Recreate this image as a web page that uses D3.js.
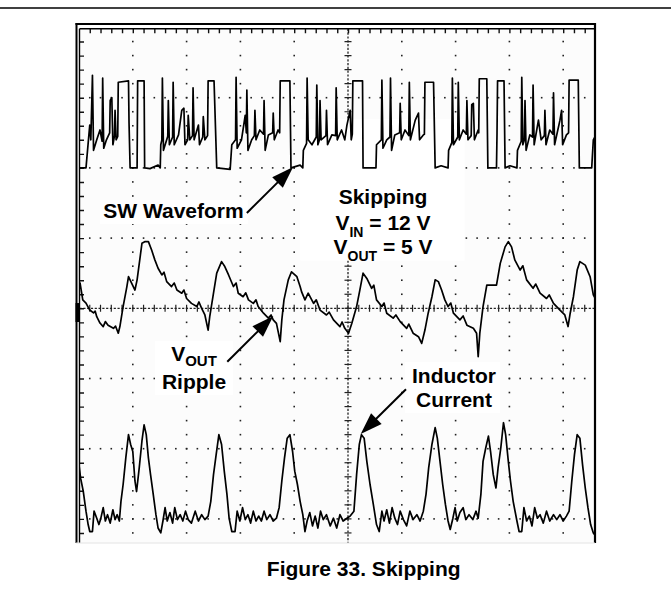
<!DOCTYPE html>
<html><head><meta charset="utf-8">
<script src="https://cdn.jsdelivr.net/npm/d3@7"></script>
<style>
body{margin:0;background:#fff}
svg{display:block}
text{font-family:"Liberation Sans",Arial,sans-serif;font-weight:bold;fill:#000}
</style></head>
<body><svg id="c" width="671" height="592"></svg>
<script>
// time in screen divisions, SW in volts (10 V/div), ripple in mV (20 mV/div), inductor current in A (1 A/div)
const swTrace = [[0,0],[0.13,0],[0.17,3.5],[0.20,6.1],[0.22,4.0],[0.25,13.2],[0.27,2.5],[0.33,4.0],[0.39,5.4],[0.43,3.8],[0.44,12.8],[0.46,2.8],[0.51,4.0],[0.57,5.0],[0.58,9.6],[0.61,10.0],[0.63,3.3],[0.66,4.6],[0.67,8.2],[0.69,4.0],[0.72,4.5],[0.73,12.2],[0.92,12.4],[0.93,6.4],[0.95,0],[1.08,0],[1.09,12.4],[1.21,12.4],[1.22,0],[1.32,-0.1],[1.47,0.4],[1.51,0],
[1.52,3.3],[1.54,4.0],[1.55,12.8],[1.57,2.5],[1.63,4.0],[1.65,4.5],[1.66,9.6],[1.68,3.3],[1.74,4.4],[1.75,12.2],[1.77,3.3],[1.85,4.7],[1.91,8.2],[1.95,8.5],[1.97,3.3],[2.02,4.0],[2.03,7.5],[2.06,4.0],[2.11,4.6],[2.12,11.4],[2.14,4.0],[2.22,6.1],[2.24,3.3],[2.30,4.4],[2.31,7.3],[2.34,4.0],[2.39,4.6],[2.40,12.4],[2.51,12.4],[2.56,0],[2.81,-0.2],
[2.84,3.3],[2.91,4.0],[2.92,12.9],[2.94,2.8],[3.02,4.0],[3.09,7.5],[3.11,5.0],[3.12,11.1],[3.14,2.5],[3.21,4.0],[3.26,4.6],[3.27,8.2],[3.29,4.0],[3.36,5.4],[3.43,4.8],[3.44,9.6],[3.46,2.5],[3.52,4.7],[3.60,5.0],[3.61,7.8],[3.63,4.0],[3.70,5.4],[3.73,5.0],[3.74,12.4],[3.92,12.4],[3.94,0],[4.11,0.4],[4.16,0],
[4.17,2.5],[4.23,3.5],[4.24,12.8],[4.26,4.0],[4.33,3.3],[4.41,4.4],[4.42,11.8],[4.44,3.3],[4.47,4.0],[4.48,9.6],[4.50,4.0],[4.59,4.6],[4.60,8.2],[4.62,3.3],[4.70,4.7],[4.77,4.6],[4.78,11.4],[4.80,4.0],[4.88,5.4],[4.94,4.0],[4.98,6.1],[5.04,8.2],[5.06,4.0],[5.08,4.8],[5.09,12.4],[5.27,12.4],[5.28,0],[5.52,0],
[5.53,3.3],[5.62,4.0],[5.63,12.5],[5.65,2.8],[5.72,4.0],[5.78,4.4],[5.79,12.8],[5.81,2.5],[5.87,4.7],[5.96,5.0],[5.97,9.2],[5.99,4.0],[6.06,5.4],[6.13,4.6],[6.14,12.2],[6.16,4.0],[6.25,6.8],[6.31,7.8],[6.33,4.0],[6.40,4.7],[6.42,4.8],[6.43,12.2],[6.59,12.2],[6.62,0],[6.73,0.3],[6.86,0],
[6.87,2.5],[6.93,3.6],[6.94,12.8],[6.96,3.3],[7.04,4.4],[7.05,12.2],[7.07,4.0],[7.14,5.4],[7.20,4.8],[7.21,9.6],[7.23,4.0],[7.29,4.6],[7.30,9.0],[7.33,9.2],[7.35,4.0],[7.42,5.4],[7.43,5.0],[7.44,12.7],[7.58,12.7],[7.60,0],[7.76,0],[7.77,5.0],[7.78,12.4],[7.90,12.4],[7.92,0],[8.01,0.3],[8.14,0],
[8.15,2.5],[8.22,3.8],[8.23,12.9],[8.25,3.3],[8.28,4.0],[8.29,9.6],[8.31,2.5],[8.38,4.7],[8.43,4.4],[8.44,11.8],[8.46,3.3],[8.54,6.8],[8.59,4.0],[8.65,4.6],[8.66,8.2],[8.68,3.3],[8.75,5.4],[8.81,4.8],[8.82,10.7],[8.84,3.3],[8.94,6.8],[8.97,8.2],[8.99,3.3],[9.06,4.7],[9.10,5.0],[9.11,12.5],[9.28,12.5],[9.30,0],[9.53,0],[9.56,4.0],[9.61,4.7]];

const rippleTrace = [[0,5.2],[0.02,7.2],[0.07,2.4],[0.13,1.5],[0.20,-0.5],[0.27,-1.3],[0.30,-0.8],[0.33,-2.4],[0.39,-4.2],[0.45,-5.2],[0.49,-3.8],[0.54,-4.8],[0.64,-5.7],[0.68,-5.1],[0.73,-7.1],[0.76,-5.2],[0.82,0.5],[0.89,6.2],[0.92,9.0],[0.98,7.1],[1.04,5.2],[1.08,8.1],[1.17,18.5],[1.23,19.0],[1.29,19.0],[1.35,16.6],[1.41,13.8],[1.47,11.4],[1.54,9.5],[1.58,10.3],[1.63,7.6],[1.72,6.2],[1.77,7.2],[1.82,5.2],[1.91,4.3],[1.95,5.2],[2.00,2.8],[2.09,1.4],[2.19,0.5],[2.23,1.8],[2.28,0],[2.34,-1.9],[2.40,-6.2],[2.43,-2.4],[2.50,4.3],[2.56,10.0],[2.65,13.3],[2.71,11.9],[2.78,9.5],[2.87,6.2],[2.92,7.2],[2.96,4.3],[3.05,3.3],[3.10,4.4],[3.15,2.4],[3.24,1.4],[3.29,2.4],[3.33,0.5],[3.43,-1.4],[3.52,-2.8],[3.57,-1.9],[3.61,-3.3],[3.67,-4.3],[3.74,-9.5],[3.77,-3.3],[3.81,2.4],[3.89,8.1],[3.95,10.4],[4.05,9.0],[4.11,6.2],[4.14,4.6],[4.20,2.4],[4.26,4.3],[4.36,1.4],[4.41,2.4],[4.48,-0.5],[4.60,-1.9],[4.65,-1.1],[4.73,-3.3],[4.85,-5.2],[4.89,-3.9],[4.94,-5.7],[5.01,-7.1],[5.07,-4.3],[5.16,0.5],[5.22,5.2],[5.28,10.0],[5.35,8.5],[5.44,5.7],[5.48,6.6],[5.53,2.4],[5.63,0.5],[5.67,1.5],[5.72,-1.4],[5.84,-2.8],[5.89,-1.9],[5.97,-3.8],[6.09,-5.7],[6.13,-4.5],[6.21,-7.1],[6.31,-8.1],[6.37,-10.0],[6.43,-6.2],[6.49,-1.4],[6.56,3.3],[6.62,8.1],[6.68,7.6],[6.74,5.2],[6.80,2.4],[6.86,0.5],[6.91,1.5],[6.96,-1.4],[7.08,-3.3],[7.14,-2.2],[7.21,-4.8],[7.33,-5.7],[7.39,-7.1],[7.42,-13.8],[7.45,-7.1],[7.51,0.5],[7.58,6.6],[7.67,6.6],[7.76,6.6],[7.83,12.8],[7.92,17.5],[7.98,19.0],[8.04,17.5],[8.10,13.8],[8.20,10.9],[8.25,12.1],[8.32,8.1],[8.44,5.7],[8.49,6.9],[8.57,4.3],[8.69,2.8],[8.74,3.8],[8.82,1.4],[8.94,-0.5],[9.03,-1.9],[9.09,-5.2],[9.13,-1.4],[9.19,3.3],[9.26,10.9],[9.31,13.3],[9.41,12.3],[9.50,9.0],[9.56,3.8],[9.61,2.4]];

const inductorTrace = [[0,0.77],[0.03,0.58],[0.08,0.39],[0.13,0.11],[0.17,-0.08],[0.20,-0.18],[0.25,-0.18],[0.28,0.11],[0.33,0.01],[0.37,-0.08],[0.40,-0.01],[0.45,0.16],[0.49,-0.03],[0.53,0.06],[0.58,-0.06],[0.63,0.13],[0.67,-0.01],[0.71,0.06],[0.75,-0.03],[0.78,0.25],[0.82,0.49],[0.87,0.87],[0.92,1.20],[0.96,1.06],[1.00,0.96],[1.04,0.54],[1.07,0.39],[1.12,0.73],[1.17,1.11],[1.21,1.34],[1.25,1.20],[1.29,0.87],[1.33,0.63],[1.38,0.35],[1.43,0.06],[1.47,-0.13],[1.52,-0.20],[1.56,-0.03],[1.60,0.16],[1.64,-0.03],[1.69,0.09],[1.74,-0.06],[1.78,0.16],[1.83,-0.01],[1.88,0.06],[1.93,-0.03],[1.98,0.11],[2.03,-0.01],[2.09,-0.06],[2.16,0.11],[2.22,-0.03],[2.28,0.06],[2.34,-0.01],[2.40,0.04],[2.45,0.25],[2.50,0.63],[2.55,0.92],[2.60,1.20],[2.65,1.06],[2.70,0.68],[2.75,0.35],[2.79,0.01],[2.84,-0.18],[2.90,-0.18],[2.94,0.11],[2.99,-0.03],[3.04,0.16],[3.09,-0.01],[3.14,0.06],[3.19,-0.06],[3.24,0.11],[3.29,-0.03],[3.34,0.04],[3.39,-0.03],[3.44,0.11],[3.49,-0.01],[3.55,0.06],[3.61,-0.03],[3.67,0.01],[3.72,0.16],[3.77,0.54],[3.82,0.87],[3.87,1.15],[3.92,1.20],[3.97,0.96],[4.01,0.68],[4.06,0.49],[4.11,0.25],[4.16,0.06],[4.20,-0.18],[4.24,-0.03],[4.29,0.09],[4.34,-0.10],[4.39,0.04],[4.44,-0.13],[4.49,0.11],[4.54,-0.01],[4.60,0.06],[4.67,-0.10],[4.73,0.01],[4.79,-0.13],[4.85,0.06],[4.91,-0.03],[4.98,0.01],[5.04,0.04],[5.11,0.11],[5.16,0.63],[5.21,1.06],[5.25,1.20],[5.30,1.15],[5.35,0.82],[5.41,0.49],[5.47,0.21],[5.53,-0.08],[5.58,-0.18],[5.63,0.11],[5.67,-0.03],[5.72,0.13],[5.77,-0.06],[5.82,0.16],[5.87,0.01],[5.92,-0.08],[5.97,0.11],[6.03,-0.01],[6.09,-0.10],[6.15,0.11],[6.21,-0.01],[6.28,0.06],[6.34,-0.03],[6.40,0.11],[6.45,0.35],[6.50,0.73],[6.56,1.06],[6.62,1.30],[6.66,1.15],[6.71,0.82],[6.76,0.49],[6.81,0.21],[6.86,-0.03],[6.90,-0.15],[6.95,0.01],[6.99,0.16],[7.03,-0.03],[7.08,0.09],[7.14,0.16],[7.19,-0.01],[7.25,0.06],[7.32,-0.01],[7.38,0.11],[7.42,0.01],[7.47,0.35],[7.51,0.82],[7.56,1.01],[7.61,1.18],[7.65,0.96],[7.70,0.63],[7.75,0.44],[7.79,0.73],[7.84,1.01],[7.89,1.37],[7.93,1.20],[7.98,0.82],[8.02,0.54],[8.07,0.25],[8.14,-0.03],[8.18,-0.18],[8.23,-0.18],[8.27,0.16],[8.32,-0.03],[8.37,0.04],[8.42,-0.10],[8.47,0.16],[8.52,0.01],[8.57,0.06],[8.63,-0.06],[8.69,0.11],[8.75,-0.03],[8.82,0.06],[8.88,-0.01],[8.94,0.06],[9.00,-0.03],[9.06,0.04],[9.11,0.11],[9.16,0.54],[9.21,0.92],[9.26,1.20],[9.31,1.15],[9.36,0.77],[9.41,0.44],[9.46,0.16],[9.51,-0.08],[9.56,-0.20],[9.61,-0.25]];

// screen grid in divisions
const majorT = [1,2,3,4,6,7,8,9];
const majorV = [-3,-2,-1,1,2,3];
const minorT = d3.range(1,50).map(k=>k/5);
const minorV = d3.range(-19,20).map(k=>k/5);

// annotations (division coordinates: t, v)
const labels = [
  {lines:[["SW Waveform"]], t:1.756, v:[1.286], box:[0.39,3.14,1.543,1.201]},
  {lines:[["Skipping"],["V","IN"," = 12 V"],["V","OUT"," = 5 V"]], t:5.651, v:[1.479,1.115,0.769], box:[4.11,7.17,2.70,0.68], sub:14, dy:7},
  {lines:[["V","OUT"],["Ripple"]], t:2.138, v:[-0.75,-1.15], box:[1.413,2.862,-0.466,-1.235], sub:15, dy:5.5},
  {lines:[["Inductor"],["Current"]], t:6.97, v:[-1.06,-1.402], box:[6.059,7.825,-0.765,-1.491]}
];
const arrows = [
  {from:[3.12,1.358], to:[3.98,2.013]},
  {from:[2.756,-0.761], to:[3.612,-0.110]},
  {from:[6.078,-1.154], to:[5.236,-1.791]}
];
const caption = "Figure 33. Skipping";

const svg = d3.select("#c");
const x = d3.scaleLinear().domain([0,10]).range([79,617]);
const yDiv = d3.scaleLinear().domain([-4,4]).range([589.1,27.5]);
const ySW = d3.scaleLinear().domain([0,10]).range([yDiv(2),yDiv(3)]);
const yRip = d3.scaleLinear().domain([0,20]).range([yDiv(0),yDiv(1)]);
const yIL = d3.scaleLinear().domain([0,1]).range([yDiv(-3),yDiv(-2)]);

const L=79.5, T=28.8, R=595, B=543;

svg.append("line").attr("x1",0).attr("x2",671).attr("y1",8).attr("y2",8).attr("stroke","#000").attr("stroke-width",1.6);

svg.append("defs").append("clipPath").attr("id","scr").append("rect")
  .attr("x",L).attr("y",T).attr("width",R-L).attr("height",B-T);

svg.append("rect").attr("x",L).attr("y",T).attr("width",R-L).attr("height",B-T).attr("fill","#fcfcfc");

const g = svg.append("g").attr("clip-path","url(#scr)");

const dots = [];
majorT.forEach(t=>minorV.forEach(v=>dots.push([t,v])));
majorV.forEach(v=>minorT.forEach(t=>dots.push([t,v])));
g.selectAll("rect.dot").data(dots).join("rect").attr("class","dot")
  .attr("x",d=>x(d[0])-0.8).attr("y",d=>yDiv(d[1])-0.8).attr("width",1.6).attr("height",1.6).attr("fill","#222");

g.append("line").attr("x1",L).attr("x2",R).attr("y1",yDiv(0)).attr("y2",yDiv(0))
  .attr("stroke","#222").attr("stroke-width",1.3).attr("stroke-dasharray","2.2,1.6");
g.append("line").attr("x1",x(5)).attr("x2",x(5)).attr("y1",T).attr("y2",B)
  .attr("stroke","#222").attr("stroke-width",1.3).attr("stroke-dasharray","2.2,1.6");
g.selectAll("line.ct").data(minorT).join("line").attr("class","ct")
  .attr("x1",d=>x(d)).attr("x2",d=>x(d)).attr("y1",yDiv(0)-3.5).attr("y2",yDiv(0)+3.5)
  .attr("stroke","#222").attr("stroke-width",1.2);
g.selectAll("line.cv").data(minorV).join("line").attr("class","cv")
  .attr("y1",d=>yDiv(d)).attr("y2",d=>yDiv(d)).attr("x1",x(5)-3.5).attr("x2",x(5)+3.5)
  .attr("stroke","#222").attr("stroke-width",1.2);

const topAx = g.append("g").attr("transform",`translate(0,${T})`)
  .call(d3.axisTop(x).tickValues(minorT).tickSize(-4.5).tickFormat(""));
const leftAx = g.append("g").attr("transform",`translate(${L},0)`)
  .call(d3.axisLeft(yDiv).tickValues(minorV).tickSize(-4.5).tickFormat(""));
[topAx,leftAx].forEach(a=>{a.select(".domain").remove(); a.selectAll(".tick line").attr("stroke","#111").attr("stroke-width",1.4);});

labels.forEach(l=>{
  g.append("rect").attr("x",x(l.box[0])).attr("y",yDiv(l.box[2]))
   .attr("width",x(l.box[1])-x(l.box[0])).attr("height",yDiv(l.box[3])-yDiv(l.box[2])).attr("fill","#fff");
});

const lineGen = yS => d3.line().x(d=>x(d[0])).y(d=>yS(d[1]));
[[swTrace,ySW],[rippleTrace,yRip],[inductorTrace,yIL]].forEach(([data,yS])=>{
  g.append("path").datum(data).attr("d",lineGen(yS)).attr("fill","none").attr("stroke","#000")
   .attr("stroke-width",1.7).attr("stroke-linejoin","round");
});

const fr = svg.append("g").attr("stroke","#000").attr("fill","none");
fr.append("line").attr("x1",75.5).attr("x2",596).attr("y1",24).attr("y2",24).attr("stroke-width",2);
fr.append("line").attr("x1",76.5).attr("x2",76.5).attr("y1",23).attr("y2",B).attr("stroke-width",2);
fr.append("line").attr("x1",R).attr("x2",R).attr("y1",23).attr("y2",B).attr("stroke-width",2.2);
fr.append("line").attr("x1",L).attr("x2",R).attr("y1",T).attr("y2",T).attr("stroke-width",1.4);
fr.append("line").attr("x1",L).attr("x2",L).attr("y1",T).attr("y2",B).attr("stroke-width",1.4);
fr.append("line").attr("x1",76).attr("x2",R).attr("y1",B).attr("y2",B).attr("stroke","#e4e4e4").attr("stroke-width",1);
svg.append("rect").attr("x",75.5).attr("y",yRip(1.5)).attr("width",4.5).attr("height",yRip(-3.9)-yRip(1.5)).attr("fill","#000");

labels.forEach(l=>{
  l.lines.forEach((parts,i)=>{
    const t = svg.append("text").attr("x",x(l.t)).attr("y",yDiv(l.v[i])).attr("text-anchor","middle").attr("font-size",21);
    if(parts.length===1){ t.text(parts[0]); }
    else {
      t.append("tspan").text(parts[0]);
      t.append("tspan").attr("dy",l.dy).attr("font-size",l.sub).text(parts[1]);
      if(parts[2]) t.append("tspan").attr("dy",-l.dy).text(parts[2]);
    }
  });
});

arrows.forEach(a=>{
  const x1=x(a.from[0]), y1=yDiv(a.from[1]), x2=x(a.to[0]), y2=yDiv(a.to[1]);
  const ang=Math.atan2(y2-y1,x2-x1), len=22, hw=7.5;
  const bx=x2-len*Math.cos(ang), by=y2-len*Math.sin(ang);
  svg.append("line").attr("x1",x1).attr("y1",y1).attr("x2",bx+2*Math.cos(ang)).attr("y2",by+2*Math.sin(ang))
    .attr("stroke","#000").attr("stroke-width",2);
  svg.append("polygon").attr("points",[[x2,y2],[bx+hw*Math.sin(ang),by-hw*Math.cos(ang)],[bx-hw*Math.sin(ang),by+hw*Math.cos(ang)]].map(p=>p.join(",")).join(" "))
    .attr("fill","#000");
});

svg.append("text").attr("x",363.7).attr("y",576).attr("text-anchor","middle").attr("font-size",21).text(caption);
</script>
</body></html>
